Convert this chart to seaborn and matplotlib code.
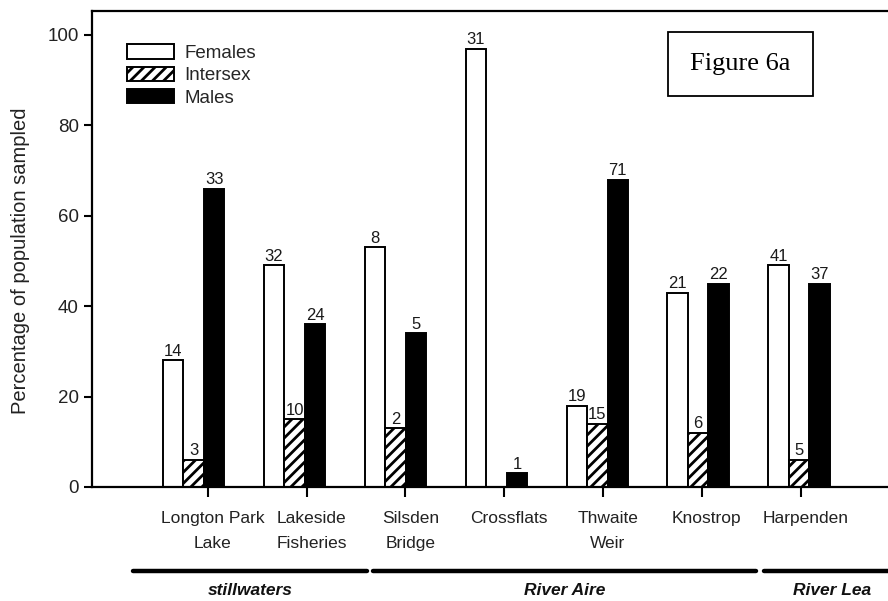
import numpy as np
import pandas as pd
import matplotlib
matplotlib.use("Agg")
import matplotlib.pyplot as plt
import matplotlib.transforms as mtransforms
from matplotlib.patches import Patch, Rectangle
import seaborn as sns

# Sampling sites and sex ratio of fish populations
sites = ["Longton Park\nLake", "Lakeside\nFisheries", "Silsden\nBridge",
         "Crossflats", "Thwaite\nWeir", "Knostrop", "Harpenden"]
sexes = ["Females", "Intersex", "Males"]

# percentage of the sampled population
females_pct = [28, 49, 53, 97, 18, 43, 49]
intersex_pct = [6, 15, 13, 0, 14, 12, 6]
males_pct = [66, 36, 34, 3, 68, 45, 45]

# number of fish in each class (printed above the bars)
females_n = [14, 32, 8, 31, 19, 21, 41]
intersex_n = [3, 10, 2, 0, 15, 6, 5]
males_n = [33, 24, 5, 1, 71, 22, 37]

# water bodies grouping the sites
regions = ["stillwaters", "River Aire", "River Lea"]
region_spans = [(-0.6, 1.72), (1.78, 5.57), (5.65, 7.0)]

yticks = [0, 20, 40, 60, 80, 100]

sns.set_theme(style="ticks")
plt.rcParams["font.family"] = ["Liberation Sans", "DejaVu Sans"]
plt.rcParams["hatch.linewidth"] = 2.0
plt.rcParams["hatch.color"] = "black"

df = pd.DataFrame({
    "site": sites * 3,
    "sex": np.repeat(sexes, len(sites)),
    "pct": females_pct + intersex_pct + males_pct,
})

fig = plt.figure(figsize=(8.88, 6.01), dpi=100)
ax = fig.add_axes([0.1036, 0.1897, 0.8964, 0.792])

palette = {"Females": "white", "Intersex": "white", "Males": "black"}
sns.barplot(data=df, x="site", y="pct", hue="sex", order=sites,
            hue_order=sexes, palette=palette, edgecolor="black",
            linewidth=1.4, width=0.61, saturation=1, errorbar=None,
            legend=False, ax=ax)

hatches = {"Females": None, "Intersex": "///", "Males": None}
counts = [females_n, intersex_n, males_n]
for sex, cont, ns in zip(sexes, ax.containers, counts):
    if hatches[sex]:
        for bar in cont:
            bar.set_hatch(hatches[sex])
    ax.bar_label(cont, labels=[str(n) if n > 0 else "" for n in ns],
                 padding=1, fontsize=12, color="#1a1a1a")

ax.set_xlim(-1.008, 6.881)
ax.set_ylim(0, 105.3)
ax.set_yticks(yticks)

tick_pos = np.arange(len(sites)) * 0.979 + 0.14
ax.set_xticks(tick_pos, sites)
ax.set_xlabel("")
ax.set_ylabel("Percentage of population sampled", fontsize=14.5,
              color="#222222")
ax.yaxis.set_label_coords(-0.078, 0.475)

ax.tick_params(axis="x", direction="out", length=7, width=1.5, pad=10,
               labelsize=12.5, colors="black")
ax.tick_params(axis="y", direction="out", length=6, width=1.5, pad=3.5,
               labelsize=13.5, colors="black")
for lab in ax.get_xticklabels():
    lab.set_linespacing(1.85)
    lab.set_color("#222222")
    lab.set_transform(lab.get_transform() +
                      mtransforms.ScaledTranslation(0.05, 0, fig.dpi_scale_trans))
for lab in ax.get_yticklabels():
    lab.set_color("#222222")

for side in ["left", "top", "bottom"]:
    ax.spines[side].set_linewidth(1.6)
    ax.spines[side].set_color("black")
ax.spines["right"].set_visible(False)

# legend with the bar styles
handles = [Patch(facecolor="white", edgecolor="black", linewidth=1.4, label="Females"),
           Patch(facecolor="white", edgecolor="black", linewidth=1.4, hatch="///",
                 label="Intersex"),
           Patch(facecolor="black", edgecolor="black", linewidth=1.4, label="Males")]
ax.legend(handles=handles, loc="upper left", bbox_to_anchor=(0.044, 0.93),
          frameon=False, borderpad=0, borderaxespad=0, fontsize=13.5,
          handlelength=2.5, handleheight=0.8, handletextpad=0.55,
          labelspacing=0.25)

# figure tag box
ax.add_patch(Rectangle((0.7236, 0.821), 0.1822, 0.135, transform=ax.transAxes,
                       fill=False, edgecolor="black", linewidth=1.3))
ax.text(0.8147, 0.888, "Figure 6a", transform=ax.transAxes, ha="center",
        va="center", fontsize=19, family="Liberation Serif", color="black")

# water-body brackets under the site names
blend = mtransforms.blended_transform_factory(ax.transData, ax.transAxes)
for name, (x0, x1) in zip(regions, region_spans):
    ax.plot([x0, x1], [-0.176, -0.176], transform=blend, color="black",
            lw=3.2, solid_capstyle="round", clip_on=False)
    ax.text((x0 + x1) / 2, -0.218, name, transform=blend, ha="center",
            va="center", fontsize=12.5, fontweight="bold", fontstyle="italic",
            color="#111111")

fig.savefig("out.png", dpi=100)
